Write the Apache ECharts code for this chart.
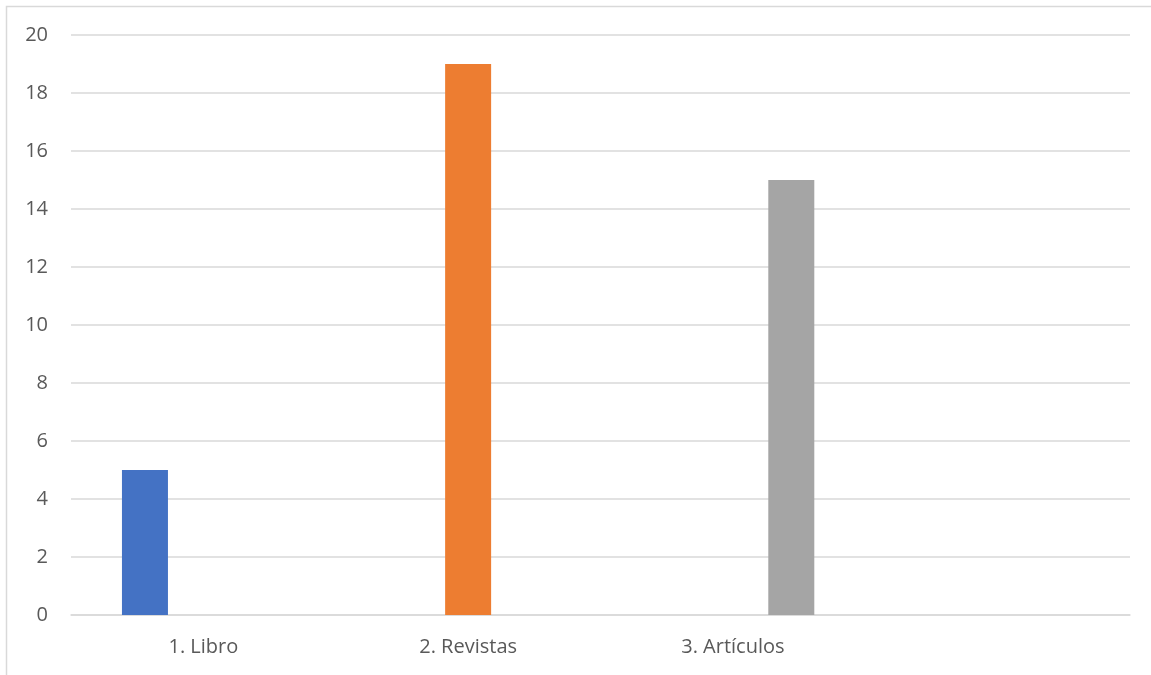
<!DOCTYPE html>
<html>
<head>
<meta charset="utf-8">
<script src="https://cdn.jsdelivr.net/npm/echarts@6/dist/echarts.min.js"></script>
<style>
html,body{margin:0;padding:0;background:#fff;}
#chart{width:1151px;height:675px;}
</style>
</head>
<body>
<div id="chart"></div>
<script>
const categories = ["1. Libro", "2. Revistas", "3. Artículos", ""];
const seriesNames = ["1. Libro", "2. Revistas", "3. Artículos"];
const libroValues = [5, "-", "-", "-"];
const revistasValues = ["-", 19, "-", "-"];
const articulosValues = ["-", "-", 15, "-"];
const yTicks = { min: 0, max: 20, interval: 2 };
const colors = ["#4472C4", "#ED7D31", "#A5A5A5"];

const chart = echarts.init(document.getElementById("chart"), null, { renderer: "canvas" });
const font = "'Open Sans', sans-serif";
const valueLists = [libroValues, revistasValues, articulosValues];
chart.setOption({
  animation: false,
  backgroundColor: "#fff",
  graphic: [{
    type: "rect",
    shape: { x: 6.5, y: 6.5, width: 1300, height: 800 },
    style: { fill: "none", stroke: "#d9d9d9", lineWidth: 1.5 },
    silent: true
  }],
  grid: { left: 71, right: 21, top: 35, bottom: 60, containLabel: false },
  xAxis: {
    type: "category",
    data: categories,
    axisLine: { show: true, lineStyle: { color: "#d9d9d9", width: 1.5 } },
    axisTick: { show: false },
    axisLabel: { color: "#595959", fontFamily: font, fontSize: 20, margin: 22 },
    splitLine: { show: false }
  },
  yAxis: {
    type: "value",
    min: yTicks.min, max: yTicks.max, interval: yTicks.interval,
    axisLine: { show: false },
    axisTick: { show: false },
    axisLabel: { color: "#595959", fontFamily: font, fontSize: 20, margin: 23 },
    splitLine: { lineStyle: { color: "#d9d9d9", width: 1.5 } }
  },
  series: seriesNames.map((name, i) => ({
    name: name,
    type: "bar",
    data: valueLists[i],
    barWidth: 46,
    barGap: "27%",
    itemStyle: { color: colors[i] }
  }))
});
</script>
</body>
</html>
